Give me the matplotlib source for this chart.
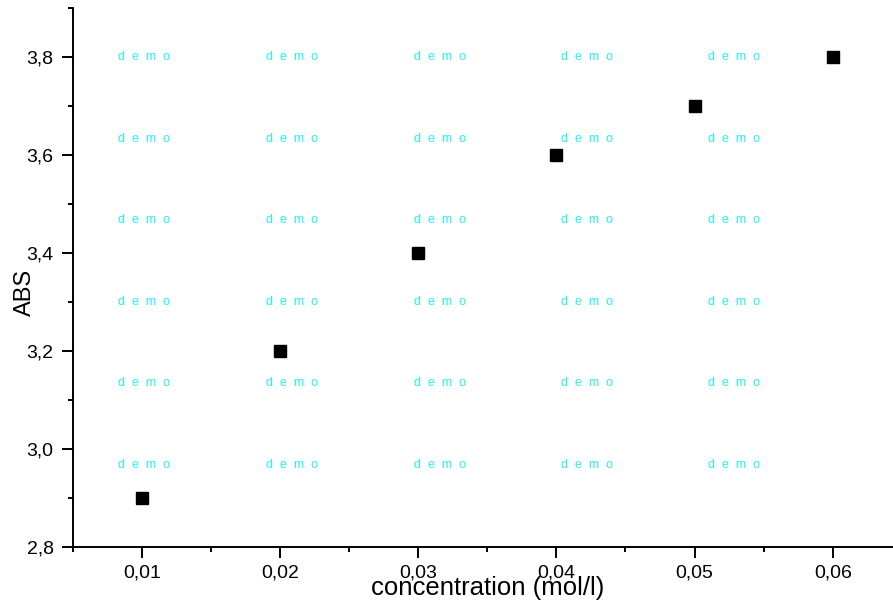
import numpy as np
import matplotlib
matplotlib.use("Agg")
import matplotlib.pyplot as plt
from matplotlib.ticker import FixedLocator, FuncFormatter

plt.rcParams['font.family'] = ['Liberation Sans', 'DejaVu Sans']

# absorbance vs concentration
conc = [0.01, 0.02, 0.03, 0.04, 0.05, 0.06]
absorb = [2.9, 3.2, 3.4, 3.6, 3.7, 3.8]

x_major = [0.01, 0.02, 0.03, 0.04, 0.05, 0.06]
x_minor = [0.005, 0.015, 0.025, 0.035, 0.045, 0.055, 0.065]
y_major = [2.8, 3.0, 3.2, 3.4, 3.6, 3.8]
y_minor = [2.9, 3.1, 3.3, 3.5, 3.7, 3.9]

W, H = 893, 605
fig = plt.figure(figsize=(W/100, H/100), dpi=100)

# axes box in pixels: left 72.7, bottom 546.7, top 8.3, right edge past the figure
ax = fig.add_axes([72.7/W, (H-546.7)/H, 829.2/W, 538.4/H])
ax.plot(conc, absorb, 's', color='black', markersize=8, zorder=3)

ax.set_xlim(0.005, 0.065)
ax.set_ylim(2.8, 3.9)
ax.spines['top'].set_visible(False)
ax.spines['right'].set_visible(False)
for s in ['left', 'bottom']:
    ax.spines[s].set_linewidth(1.4)

ax.xaxis.set_major_locator(FixedLocator(x_major))
ax.xaxis.set_minor_locator(FixedLocator(x_minor))
ax.yaxis.set_major_locator(FixedLocator(y_major))
ax.yaxis.set_minor_locator(FixedLocator(y_minor))
ax.xaxis.set_major_formatter(FuncFormatter(lambda v, p: ('%.2f' % v).replace('.', ',')))
ax.yaxis.set_major_formatter(FuncFormatter(lambda v, p: ('%.1f' % v).replace('.', ',')))
ax.tick_params(which='major', length=7.8, width=1.4, labelsize=14, pad=5)
ax.tick_params(which='minor', length=3.8, width=1.4)
ax.tick_params(axis='y', which='major', pad=6)

ax.set_xlabel('concentration (mol/l)', fontsize=18.5, va='baseline')
ax.xaxis.set_label_coords(0.5, -48.3/538.4)
ax.set_ylabel('ABS', fontsize=17, va='bottom', ha='center')
ax.yaxis.set_label_coords(-36.5/829.2, 1-(292.5-8.3)/538.4)

# watermark grid
cols = [144.5 + 147.5*i for i in range(5)]
rows = [57 + 81.6*j for j in range(6)]
for cx in cols:
    for cy in rows:
        fig.text(cx/W, 1-cy/H, 'd  e  m  o', color='#22f4f4', fontsize=9,
                 ha='center', va='center', zorder=0)

fig.savefig('out.png', dpi=100)
